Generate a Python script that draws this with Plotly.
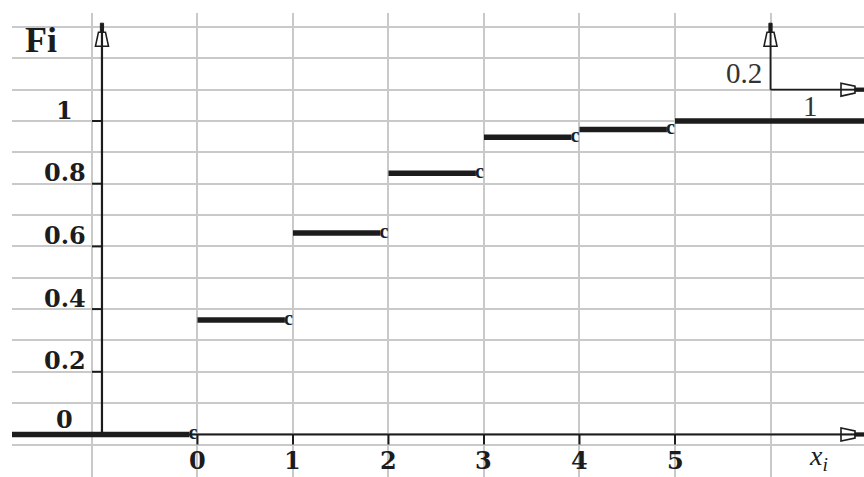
import plotly.graph_objects as go

# Distribution function F(x): jump points and the value on each interval
jump_x = [0, 1, 2, 3, 4, 5]
F_values = [0.0, 0.365, 0.643, 0.833, 0.948, 0.973, 1.0]

# Axis ticks and their labels
y_tick_vals = [0, 0.2, 0.4, 0.6, 0.8, 1.0]
y_tick_text = ["0", "0.2", "0.4", "0.6", "0.8", "1"]
x_tick_vals = [0, 1, 2, 3, 4, 5]
x_tick_text = ["0", "1", "2", "3", "4", "5"]

# Scale marker in the upper right corner
scale_origin = (6, 1.1)
scale_dx = 1
scale_dy = 0.2

# Plot window and background grid
X_RANGE = [-1.942, 6.979]
Y_RANGE = [-0.1356, 1.3445]
GRID_X = [-1.1, 0, 1, 2, 3, 4, 5, 6]
GRID_Y = [-0.133, -0.0335] + [round(0.1 * k, 1) for k in range(0, 14)]
Y_AXIS_X = -1
AXIS_TIP = 1.312
SEG_GAP = 0.085

INK = "#1c1c1c"
DIGIT_FONT = dict(family="DejaVu Serif", size=24, color=INK)

fig = go.Figure()

# Step segments of F(x)
seg_x, seg_y = [], []
for i, f in enumerate(F_values):
    left = X_RANGE[0] if i == 0 else jump_x[i - 1]
    right = jump_x[i] - SEG_GAP if i < len(jump_x) else X_RANGE[1]
    seg_x += [left, right, None]
    seg_y += [f, f, None]
fig.add_trace(go.Scatter(x=seg_x, y=seg_y, mode="lines",
                         line=dict(color=INK, width=5.5), hoverinfo="skip"))

# Open right ends of the intervals
fig.add_trace(go.Scatter(
    x=jump_x, y=F_values[:len(jump_x)], mode="text", text=["<b>c</b>"] * len(jump_x),
    textposition="middle left",
    textfont=dict(family="Liberation Serif", size=20, color="#15202a"),
    hoverinfo="skip"))

shapes = []


def line(x0, y0, x1, y1, width=2.2):
    shapes.append(dict(type="line", xref="x", yref="y", x0=x0, y0=y0, x1=x1, y1=y1,
                       line=dict(color=INK, width=width), layer="above"))


def arrowhead(x, y, direction):
    # nib-shaped arrowhead drawn in pixels around its tip
    tip = [(-1.6, 0), (1.6, 0), (1.6, -9), (-1.6, -9)]
    nib = [(-3.5, -9), (3.5, -9), (6.5, -23), (-6.5, -23)]

    def to_path(pts):
        if direction == "up":
            p = [(a, b) for a, b in pts]
        else:
            p = [(b, a) for a, b in pts]
        return "M " + " L ".join(f"{px},{py}" for px, py in p) + " Z"

    common = dict(type="path", xref="x", yref="y", xsizemode="pixel",
                  ysizemode="pixel", xanchor=x, yanchor=y, layer="above")
    shapes.append(dict(path=to_path(tip), fillcolor=INK,
                       line=dict(color=INK, width=1), **common))
    shapes.append(dict(path=to_path(nib), fillcolor="rgba(0,0,0,0)",
                       line=dict(color=INK, width=1.6), **common))


# Coordinate axes
line(Y_AXIS_X, 0, Y_AXIS_X, AXIS_TIP - 0.01)
line(Y_AXIS_X, 0, X_RANGE[1], 0)
arrowhead(Y_AXIS_X, AXIS_TIP, "up")
arrowhead(X_RANGE[1], 0, "right")

# Tick marks
for v in y_tick_vals[1:]:
    shapes.append(dict(type="line", xref="x", yref="y", xsizemode="pixel", xanchor=Y_AXIS_X,
                       x0=-10, x1=0, y0=v, y1=v, line=dict(color=INK, width=2), layer="above"))
for v in x_tick_vals:
    shapes.append(dict(type="line", xref="x", yref="y", ysizemode="pixel", yanchor=0,
                       x0=v, x1=v, y0=0, y1=-10, line=dict(color=INK, width=2), layer="above"))

# Scale marker
sx, sy = scale_origin
line(sx, sy, sx, AXIS_TIP - 0.01, width=1.8)
line(sx, sy, X_RANGE[1], sy, width=1.8)
arrowhead(sx, AXIS_TIP, "up")
arrowhead(X_RANGE[1], sy, "right")

annotations = []
for v, t in zip(y_tick_vals, y_tick_text):
    annotations.append(dict(x=Y_AXIS_X, y=v, text=f"<b>{t}</b>", xshift=-37,
                            yshift=15 if v == 0 else 11,
                            showarrow=False, font=DIGIT_FONT))
for v, t in zip(x_tick_vals, x_tick_text):
    annotations.append(dict(x=v, y=0, text=f"<b>{t}</b>", yshift=-26,
                            showarrow=False, font=DIGIT_FONT))
annotations.append(dict(x=Y_AXIS_X, y=1.3, text="<b>Fi</b>", xshift=-61, yshift=-13,
                        showarrow=False,
                        font=dict(family="Liberation Serif", size=36, color=INK)))
annotations.append(dict(x=6.5, y=0, text="<i>x<sub>i</sub></i>", yshift=-23,
                        showarrow=False,
                        font=dict(family="Liberation Serif", size=28, color=INK)))
annotations.append(dict(x=sx, y=sy, text=f"{scale_dy:g}", xshift=-27, yshift=17,
                        showarrow=False,
                        font=dict(family="Liberation Serif", size=29, color="#333333")))
annotations.append(dict(x=sx + 0.42 * scale_dx, y=sy, text=f"{scale_dx:g}", yshift=-16,
                        showarrow=False,
                        font=dict(family="Liberation Serif", size=29, color="#333333")))

grid = dict(showgrid=True, gridcolor="#c9c9c9", gridwidth=1.5, zeroline=False,
            showline=False, ticks="", showticklabels=False)
fig.update_layout(
    width=864, height=477,
    margin=dict(l=12, r=0, t=13, b=0),
    paper_bgcolor="white", plot_bgcolor="white",
    showlegend=False,
    xaxis=dict(range=X_RANGE, tickvals=GRID_X, **grid),
    yaxis=dict(range=Y_RANGE, tickvals=GRID_Y, **grid),
    shapes=shapes,
    annotations=annotations,
)

fig.write_html("out.html")
